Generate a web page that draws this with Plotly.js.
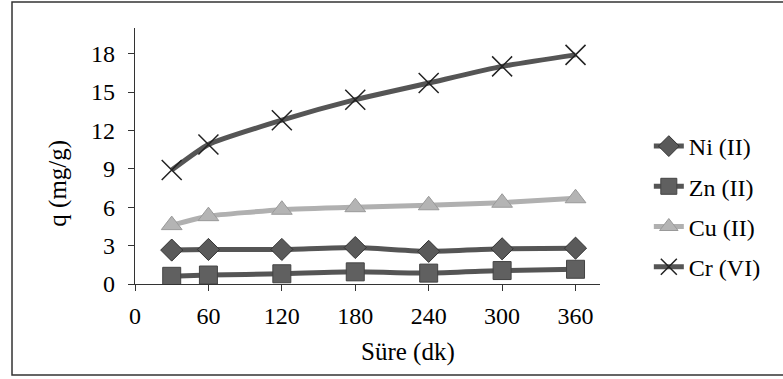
<!DOCTYPE html>
<html>
<head>
<meta charset="utf-8">
<script src="https://cdn.plot.ly/plotly-3.0.1.min.js"></script>
<style>
html,body{margin:0;padding:0;background:#fff;}
#chart{width:783px;height:379px;}
</style>
</head>
<body>
<div id="chart"></div>
<script>
const times = [30, 60, 120, 180, 240, 300, 360];
const seriesNames = ["Ni (II)", "Zn (II)", "Cu (II)", "Cr (VI)"];
const ni = [2.65, 2.7, 2.7, 2.85, 2.55, 2.75, 2.8];
const zn = [0.6, 0.7, 0.8, 0.95, 0.85, 1.05, 1.15];
const cu = [4.6, 5.3, 5.8, 6.0, 6.15, 6.35, 6.7];
const cr = [8.9, 10.9, 12.8, 14.4, 15.7, 17.0, 17.9];
const xTicks = [0, 60, 120, 180, 240, 300, 360];
const yTicks = [0, 3, 6, 9, 12, 15, 18];
const xTitle = "Süre (dk)";
const yTitle = "q (mg/g)";

const serif = "'Liberation Serif', 'Times New Roman', serif";
const ink = "#000";

function tr(name, y, color, marker, grp) {
  return {
    x: times, y: y, name: name, type: "scatter", mode: "lines+markers",
    legendgroup: grp,
    line: {color: color, width: 5, shape: "spline", smoothing: 0.5},
    marker: marker
  };
}

const data = [
  tr(seriesNames[0], ni, "#555555", {symbol: "diamond", size: 17, color: "#5a5a5a", line: {color: "#333", width: 1}}, "a"),
  tr(seriesNames[1], zn, "#555555", {symbol: "square", size: 18, color: "#606060", line: {color: "#444", width: 1}}, "b"),
  tr(seriesNames[2], cu, "#b0b0b0", {symbol: "triangle-up", size: 18, color: "#b4b4b4", line: {color: "#999", width: 1}}, "c"),
  tr(seriesNames[3], cr, "#555555", {symbol: "x-thin", size: 20, color: "#222", line: {color: "#222", width: 1.5}}, "d")
];

const layout = {
  width: 783, height: 379,
  margin: {l: 135, r: 183, t: 28, b: 95},
  paper_bgcolor: "#ffffff", plot_bgcolor: "#ffffff",
  font: {family: serif, size: 24, color: ink},
  showlegend: true,
  legend: {
    x: 1.105, y: 0.625, xanchor: "left", yanchor: "top",
    font: {family: serif, size: 24, color: ink},
    traceorder: "grouped", tracegroupgap: 6,
    itemwidth: 30, bgcolor: "rgba(0,0,0,0)"
  },
  xaxis: {
    range: [0, 380], tickvals: xTicks, ticktext: xTicks.map(String),
    showgrid: false, zeroline: false, showline: true, linecolor: "#333", linewidth: 1.2,
    ticks: "outside", ticklen: 6, tickcolor: "#333", ticklabelstandoff: 4,
    tickfont: {family: serif, size: 24, color: ink}
  },
  yaxis: {
    range: [0, 20], tickvals: yTicks, ticktext: yTicks.map(String),
    showgrid: false, zeroline: false, showline: true, linecolor: "#333", linewidth: 1.2,
    ticks: "outside", ticklen: 6, tickcolor: "#333", ticklabelstandoff: 8,
    tickfont: {family: serif, size: 24, color: ink}
  },
  annotations: [{
    text: yTitle, xref: "paper", yref: "paper", x: -0.166, y: 0.395,
    xanchor: "center", yanchor: "middle", textangle: -90, showarrow: false,
    font: {family: serif, size: 25, color: ink}
  }, {
    text: xTitle, xref: "paper", yref: "paper", x: 0.587, y: -0.265,
    xanchor: "center", yanchor: "middle", showarrow: false,
    font: {family: serif, size: 25, color: ink}
  }],
  shapes: [{
    type: "rect", xref: "paper", yref: "paper",
    x0: -0.2645, x1: 1.6, y0: -0.355, y1: 1.1016,
    line: {color: "#333", width: 1.5}, fillcolor: "rgba(0,0,0,0)", layer: "below"
  }]
};

Plotly.newPlot("chart", data, layout, {displayModeBar: false, staticPlot: true});
</script>
</body>
</html>
